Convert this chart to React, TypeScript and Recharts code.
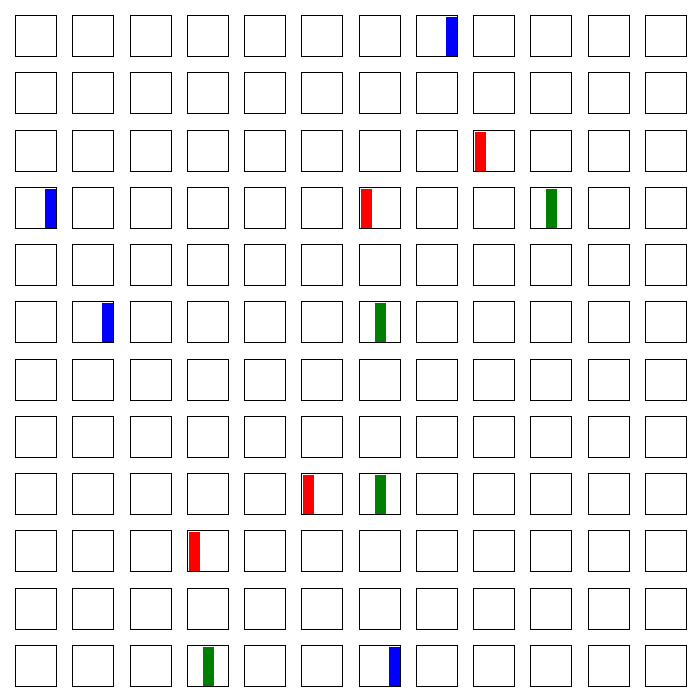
import React from 'react';
import { BarChart, Bar, XAxis, YAxis, Cell } from 'recharts';

// grid of 12 x 12 small panels, each a 3-bar chart (red, green, blue)
const rows = 12;
const cols = 12;
const categories = ['red', 'green', 'blue'];
const barColors = ['#ff0000', '#008000', '#0000ff'];

// [row, col] of the panels that hold a bar of that colour
const redCells = [[2, 8], [3, 6], [8, 5], [9, 3]];
const greenCells = [[3, 9], [5, 6], [8, 6], [11, 3]];
const blueCells = [[0, 7], [3, 0], [5, 1], [11, 6]];
const barValue = 1;

const cellList = [redCells, greenCells, blueCells];

const panelData = (r: number, c: number) =>
    categories.map((name, i) => ({
        name,
        value: cellList[i].some(([rr, cc]) => rr === r && cc === c) ? barValue : 0,
    }));

const SIZE = 42;
const PITCH = 57.27;
const START = 15;

const Panel: React.FC<{ r: number; c: number }> = ({ r, c }) => {
    const data = panelData(r, c);
    return (
        <div
            style={{
                position: 'absolute',
                left: Math.round(START + c * PITCH),
                top: Math.round(START + r * PITCH),
                width: SIZE,
                height: SIZE,
            }}
        >
            <BarChart width={SIZE} height={SIZE} data={data} margin={{ top: 0, right: 0, left: 0, bottom: 0 }}>
                <XAxis dataKey="name" hide />
                <YAxis hide domain={[0, 1.05]} />
                <Bar dataKey="value" barSize={11} isAnimationActive={false}>
                    {data.map((d, i) => (
                        <Cell key={d.name} fill={barColors[i]} />
                    ))}
                </Bar>
            </BarChart>
            <div
                style={{
                    position: 'absolute',
                    left: 0,
                    top: 0,
                    width: SIZE,
                    height: SIZE,
                    boxSizing: 'border-box',
                    border: '1px solid #000',
                    pointerEvents: 'none',
                }}
            />
        </div>
    );
};

export default function App() {
    const panels = [];
    for (let r = 0; r < rows; r++) {
        for (let c = 0; c < cols; c++) {
            panels.push(<Panel key={`${r}-${c}`} r={r} c={c} />);
        }
    }
    return (
        <div style={{ position: 'absolute', left: 0, top: 0, width: 700, height: 700, background: '#fff' }}>
            {panels}
        </div>
    );
}
